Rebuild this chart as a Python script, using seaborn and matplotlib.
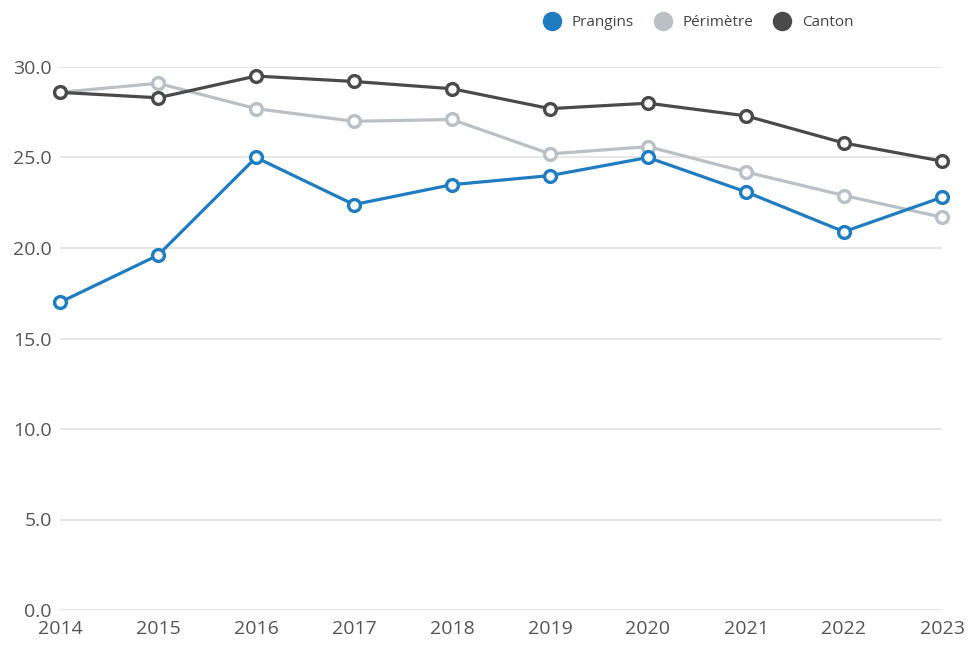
import pandas as pd
import matplotlib
matplotlib.use("Agg")
import matplotlib.pyplot as plt
import seaborn as sns
from matplotlib.lines import Line2D

years = [2014, 2015, 2016, 2017, 2018, 2019, 2020, 2021, 2022, 2023]
prangins = [17.0, 19.6, 25.0, 22.4, 23.5, 24.0, 25.0, 23.1, 20.9, 22.8]
perimetre = [28.6, 29.1, 27.7, 27.0, 27.1, 25.2, 25.6, 24.2, 22.9, 21.7]
canton = [28.6, 28.3, 29.5, 29.2, 28.8, 27.7, 28.0, 27.3, 25.8, 24.8]

series_names = ["Prangins", "Périmètre", "Canton"]
colors = {"Prangins": "#1f7cc1", "Périmètre": "#b9c1c7", "Canton": "#4a4a4a"}
draw_order = ["Périmètre", "Canton", "Prangins"]

df = pd.DataFrame({"year": years, "Prangins": prangins,
                   "Périmètre": perimetre, "Canton": canton})
long_df = df.melt(id_vars="year", var_name="serie", value_name="valeur")

sns.set_style("white")
plt.rcParams["font.family"] = ["Open Sans", "DejaVu Sans"]

fig = plt.figure(figsize=(9.68, 6.51), dpi=100)
ax = fig.add_axes([60 / 968, 41 / 651, 882 / 968, 543 / 651])

for i, name in enumerate(draw_order):
    sub = long_df[long_df["serie"] == name]
    sns.lineplot(data=sub, x="year", y="valeur", ax=ax, color=colors[name],
                 linewidth=2.3, marker="o", markersize=8.5,
                 markerfacecolor="white", markeredgecolor=colors[name],
                 markeredgewidth=2.4, zorder=3 + i, clip_on=False)

ax.set_xlim(2014, 2023)
ax.set_ylim(0, 30)
ax.set_xticks(years)
ax.set_xticklabels([str(y) for y in years])
ax.set_yticks([0, 5, 10, 15, 20, 25, 30])
ax.set_yticklabels([f"{v:.1f}" for v in [0, 5, 10, 15, 20, 25, 30]])
ax.yaxis.grid(True, color="#e3e3e3", linewidth=1.2)
ax.xaxis.grid(False)
for s in ax.spines.values():
    s.set_visible(False)
ax.tick_params(axis="both", length=0, labelsize=14, labelcolor="#555555")
ax.tick_params(axis="x", pad=7)
ax.tick_params(axis="y", pad=6)
ax.set_xlabel("")
ax.set_ylabel("")

handles = [Line2D([0], [0], marker="o", linestyle="", markersize=13,
                  markerfacecolor=colors[n], markeredgecolor=colors[n])
           for n in series_names]
fig.legend(handles, series_names, loc="center", bbox_to_anchor=(0.718, 0.965),
           ncol=3, frameon=False, fontsize=11, handletextpad=0.3,
           columnspacing=0.9, labelcolor="#444444")

fig.savefig("out.png", dpi=100)
